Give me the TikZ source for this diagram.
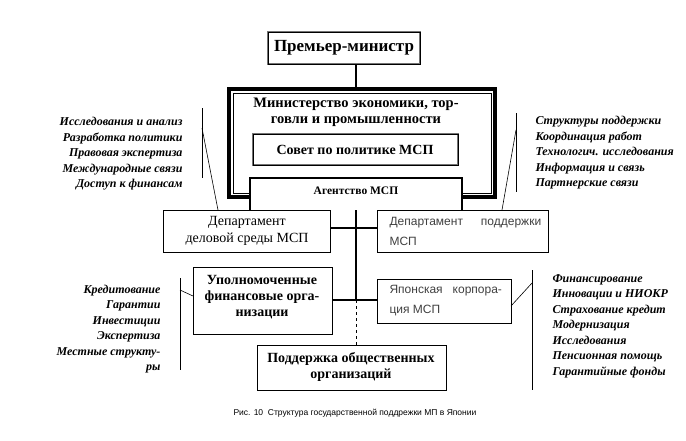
\documentclass[tikz,border=0pt]{standalone}
\usepackage{fontspec}
\setmainfont{Liberation Serif}
\newfontfamily\capf{Liberation Sans}
\begin{document}
\begin{tikzpicture}[x=1pt,y=-1pt,
 box/.style={draw,line width=0.8pt,inner sep=0pt},
 bt/.style={font=\bfseries\fontsize{14}{16}\selectfont,align=center},
 st/.style={font=\capf\fontsize{12}{20}\selectfont,align=left,text=black!75},
 lst/.style={font=\bfseries\itshape\fontsize{12}{15.5}\selectfont},
 thk/.style={line width=2.5pt}]
\useasboundingbox (0,0) rectangle (686,440);
% premier
\draw[line width=2.5pt,black!55] (268,32) rectangle (420,64);
\draw[line width=1pt] (268,32) rectangle (420,64);
\node[bt,font=\bfseries\fontsize{17}{18}\selectfont] (pm) at (344,48) {Премьер-министр};
\coordinate (pmb) at (356,64);
% ministry
\draw[line width=3.5pt] (229,89) rectangle (495,197);
\draw[line width=0.6pt] (233,93) rectangle (491,193);
\node[bt,font=\bfseries\fontsize{14.5}{16}\selectfont] (min) at (356,112) {Министерство экономики, тор-\\говли и промышленности};
\coordinate (mint) at (356,87);
\draw[thk] (pmb) -- (mint);
\draw[line width=2pt,black!55] (253,134) rectangle (458,165);
\draw[line width=0.6pt] (253,134) rectangle (458,165);
\node[bt] (sov) at (355,150) {Совет по политике МСП};
% agency
\fill[white] (250,178) rectangle (462,210);
\draw[thk] (250,210) -- (250,178) -- (462,178) -- (462,210);
\node[font=\bfseries\fontsize{11.5}{12}\selectfont] (ag) at (356,191) {Агентство МСП};
% departments
\draw[box] (163,210) rectangle (330,252);
\node[font=\fontsize{14}{17}\selectfont,align=center] (dl) at (247,231) {Департамент\\деловой среды МСП};
\draw[box] (377,210) rectangle (548,252);
\node[st,anchor=west] (dr) at (386,231) {Департамент\hspace{18pt}поддержки\\МСП};
\coordinate (agb) at (356,210);
\coordinate (j2) at (356,300);
\draw[thk] (330,228) -- (377,228);
\draw[thk] (agb) -- (j2);
% lower boxes
\draw[box] (193,267) rectangle (332,334);
\node[bt] (up) at (262,297) {Уполномоченные\\финансовые орга-\\низации};
\draw[box] (377,279) rectangle (511,323);
\node[st,anchor=west] (jp) at (386,301) {Японская\hspace{10pt}корпора-\\ция МСП};
\draw[thk] (332,300) -- (377,300);
\draw[dashed,line width=0.6pt] (j2) -- (356,345);
\draw[box] (257,345) rectangle (446,390);
\node[bt] (soc) at (351,367) {Поддержка общественных\\организаций};
% lists
\node[lst,align=right,anchor=east] (l1) at (186,154) {Исследования и анализ\\Разработка политики\\Правовая экспертиза\\Международные связи\\Доступ к финансам};
\draw[line width=0.6pt] (202,108) -- (202,178);
\draw[line width=0.6pt] (202,128) -- (218,210);
\node[lst,align=left,anchor=west] (r1) at (532,153) {Структуры поддержки\\Координация работ\\Технологич. исследования\\Информация и связь\\Партнерские связи};
\draw[line width=0.6pt] (516,113) -- (516,192);
\draw[line width=0.6pt] (516,130) -- (502,210);
\node[lst,align=right,anchor=east] (l2) at (164,329) {Кредитование\\Гарантии\\Инвестиции\\Экспертиза\\Местные структу-\\ры};
\draw[line width=0.6pt] (180,278) -- (180,370);
\draw[line width=0.6pt] (180,290) -- (193,296);
\node[lst,align=left,anchor=west] (r2) at (549,326) {Финансирование\\Инновации и НИОКР\\Страхование кредит\\Модернизация\\Исследования\\Пенсионная помощь\\Гарантийные фонды};
\draw[line width=0.6pt] (532,270) -- (532,390);
\draw[line width=0.6pt] (532,283) -- (511,306);
\node[font=\capf\fontsize{8.5}{10}\selectfont] (cap) at (355,413) {Рис. 10\ \ Структура государственной поддрежки МП в Японии};
\end{tikzpicture}
\end{document}
